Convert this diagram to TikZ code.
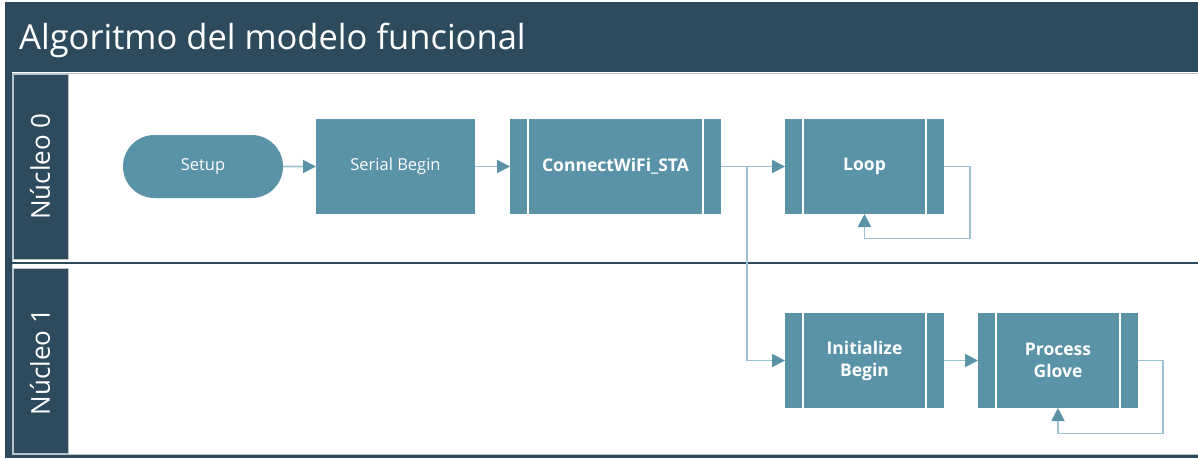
\documentclass[tikz,border=0pt]{standalone}
\usepackage{fontspec}
\setmainfont{Open Sans}
\usetikzlibrary{arrows.meta,shapes.misc}

\definecolor{frame}{HTML}{2E4B5E}
\definecolor{boxfill}{HTML}{5A92A7}
\definecolor{wire}{HTML}{9CC2D2}
\definecolor{tip}{HTML}{5A92A7}
\definecolor{rim}{HTML}{B9C4CA}

\tikzset{
  x=1pt, y=-1pt,
  box/.style={fill=boxfill, draw=none, inner sep=0pt, outer sep=0pt,
    text=white, font=\fontsize{16.5}{21}\selectfont, align=center},
  term/.style={box, rounded rectangle, minimum width=160pt, minimum height=63pt},
  proc/.style={box, rectangle, minimum width=159pt, minimum height=95pt},
  subproc/.style={box, rectangle, minimum height=95pt,
    font=\fontsize{17.5}{22}\selectfont\bfseries,
    path picture={
      \draw[white, line width=1.2pt]
        ([xshift=18pt]path picture bounding box.north west) --
        ([xshift=18pt]path picture bounding box.south west);
      \draw[white, line width=1.2pt]
        ([xshift=-18pt]path picture bounding box.north east) --
        ([xshift=-18pt]path picture bounding box.south east);
    }},
  conn/.style={draw=wire, line width=1.8pt,
    -{Triangle[length=13pt, width=13pt, color=tip]}},
  lanehead/.style={fill=frame, draw=rim, line width=0.8pt},
  lanetext/.style={text=white, rotate=90, font=\fontsize{26}{30}\selectfont}
}

\begin{document}
\begin{tikzpicture}
\useasboundingbox (0,0) rectangle (1198,458);

% pool frame and title bar
\fill[white] (0,0) rectangle (1198,458);
\fill[frame] (5,2) rectangle (1198,458);
\fill[white] (12,72) rectangle (1198,455);
\draw[rim, line width=0.8pt] (12.5,73) rectangle (1198,454);
\node[anchor=base west, text=white, font=\fontsize{34.5}{40}\selectfont, inner sep=0pt]
  (title) at (19,49) {Algoritmo del modelo funcional};

% lane separator
\draw[frame, line width=2pt] (12,263) -- (1198,263);

% lane headers
\draw[lanehead] (13.5,74.5) rectangle (68,259);
\draw[lanehead] (13.5,268.5) rectangle (68,453);
\node[lanetext] (lane0) at (40,166.5) {Núcleo 0};
\node[lanetext] (lane1) at (40,362) {Núcleo 1};

% process nodes
\node[term] (setup) at (203,166.5) {Setup};
\node[proc] (serial) at (395.5,166.5) {Serial Begin};
\node[subproc, minimum width=211pt] (wifi) at (615.5,166.5) {ConnectWiFi\_STA};
\node[subproc, minimum width=159pt] (loop) at (864.5,166.5) {Loop};
\node[subproc, minimum width=159pt] (init) at (864.5,360.5) {Initialize\\Begin};
\node[subproc, minimum width=160pt] (glove) at (1058,360.5) {Process\\Glove};

% connectors
\coordinate (split) at (747,166.5);
\draw[conn] (setup) -- (serial);
\draw[conn] (serial) -- (wifi);
\draw[conn] (wifi) -- (loop);
\draw[conn] (split) |- (init.west);
\draw[conn] (init) -- (glove);
\draw[conn] (loop.east) -- ++(26,0) -- ++(0,72) -| (loop.south);
\draw[conn] (glove.east) -- ++(25,0) -- ++(0,73) -| (glove.south);
\end{tikzpicture}
\end{document}
